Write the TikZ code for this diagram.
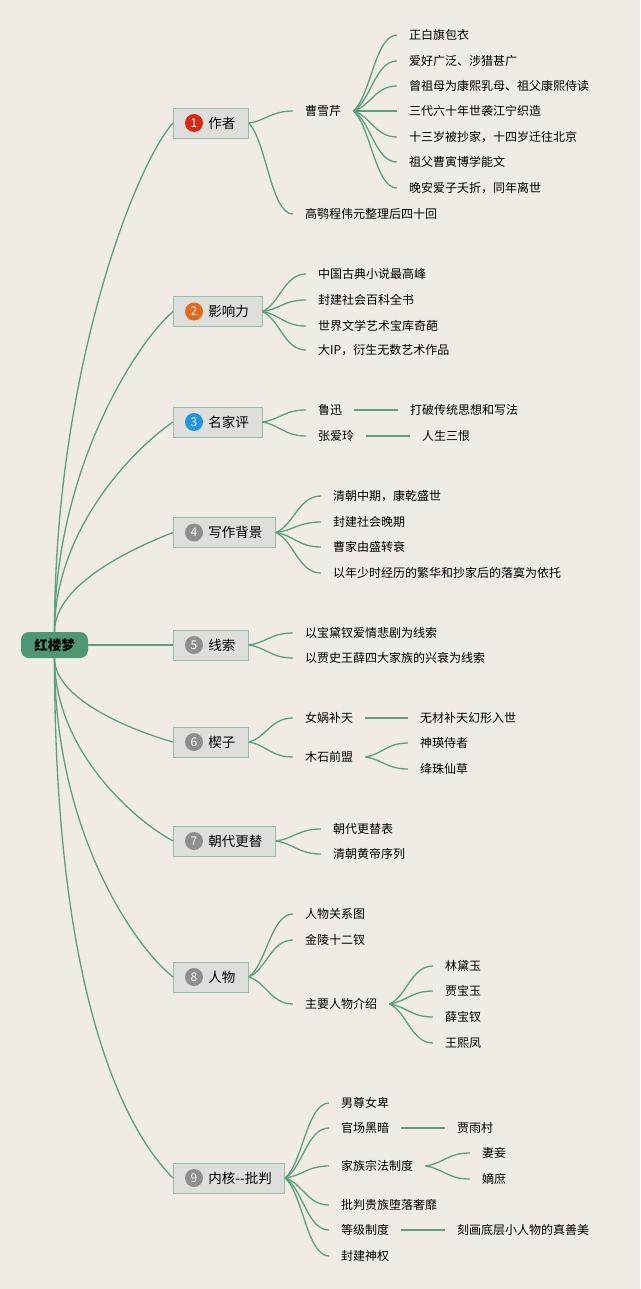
\documentclass[tikz,border=0pt]{standalone}
\usepackage{fontspec}
\setmainfont{Noto Sans CJK SC}
\usetikzlibrary{calc}
\definecolor{bgcol}{HTML}{F0ECE5}
\definecolor{linkcol}{HTML}{5B9E80}
\definecolor{boxfill}{HTML}{DEDEDC}
\definecolor{boxline}{HTML}{93C2A8}
\definecolor{rootfill}{HTML}{4F9774}
\definecolor{badgered}{HTML}{D62B12}
\definecolor{badgeorange}{HTML}{E3691C}
\definecolor{badgeblue}{HTML}{2196DE}
\definecolor{badgegray}{HTML}{8E8E8E}
% curved twig from a parent to a child, arriving level
\newcommand\twig[2]{\draw[link] let \p1=(#1), \p2=(#2) in (\p1) .. controls ({\x1+0.4*(\x2-\x1)},{\y1+0.2*(\y2-\y1)}) and ({0.5*(\x1+\x2)},\y2) .. (\p2);}
\begin{document}
\begin{tikzpicture}[x=1pt, y=-1pt,
  link/.style={draw=linkcol, line width=1.3pt},
  rootbox/.style={fill=rootfill, rounded corners=8pt, minimum width=67pt, minimum height=26pt, inner sep=0pt, font=\fontsize{13.5}{15}\selectfont\bfseries},
  branch/.style={anchor=west, draw=boxline, line width=0.8pt, fill=boxfill, minimum height=30pt, inner xsep=13pt, inner ysep=0pt, font=\fontsize{13.5}{15}\selectfont},
  badge/.style={circle, minimum size=18pt, inner sep=0pt, text=white, font=\fontsize{12}{12}\selectfont},
  leaf/.style={anchor=west, inner xsep=12pt, inner ysep=1pt, font=\fontsize{12}{14}\selectfont}]
\fill[bgcol] (0,0) rectangle (640,1289);
\node[rootbox] (root) at (54.5,645){红楼梦};
% main branches
\node[branch] (b1) at (173,123){\hspace{22pt}作者};
\node[badge, fill=badgered] (n1) at ([xshift=21pt]b1.west){1};
\node[branch] (b2) at (173,311.5){\hspace{22pt}影响力};
\node[badge, fill=badgeorange] (n2) at ([xshift=21pt]b2.west){2};
\node[branch] (b3) at (173,422){\hspace{22pt}名家评};
\node[badge, fill=badgeblue] (n3) at ([xshift=21pt]b3.west){3};
\node[branch] (b4) at (173,532.5){\hspace{22pt}写作背景};
\node[badge, fill=badgegray] (n4) at ([xshift=21pt]b4.west){4};
\node[branch] (b5) at (173,645){\hspace{22pt}线索};
\node[badge, fill=badgegray] (n5) at ([xshift=21pt]b5.west){5};
\node[branch] (b6) at (173,742){\hspace{22pt}楔子};
\node[badge, fill=badgegray] (n6) at ([xshift=21pt]b6.west){6};
\node[branch] (b7) at (173,841){\hspace{22pt}朝代更替};
\node[badge, fill=badgegray] (n7) at ([xshift=21pt]b7.west){7};
\node[branch] (b8) at (173,977){\hspace{22pt}人物};
\node[badge, fill=badgegray] (n8) at ([xshift=21pt]b8.west){8};
\node[branch] (b9) at (173,1178){\hspace{22pt}内核-{}-批判};
\node[badge, fill=badgegray] (n9) at ([xshift=21pt]b9.west){9};
\draw[link] (root.north) .. controls (54.5,378) and (133,168) .. (b1.west);
\draw[link] (root.north) .. controls (54.5,472) and (135,344) .. (b2.west);
\draw[link] (root.north) .. controls (54.5,528) and (136,447) .. (b3.west);
\draw[link] (root.north) .. controls (54.5,583) and (136,547) .. (b4.west);
\draw[link] (root.east) -- (b5.west);
\draw[link] (root.south) .. controls (54.5,700) and (134,731) .. (b6.west);
\draw[link] (root.south) .. controls (54.5,750) and (134,820) .. (b7.west);
\draw[link] (root.south) .. controls (54.5,830) and (133,945) .. (b8.west);
\draw[link] (root.south) .. controls (54.5,970) and (115,1120) .. (b9.west);
% 1 author
\node[leaf] (c11) at (293,111){曹雪芹};
\node[leaf] (c12) at (293,214){高鹗程伟元整理后四十回};
\node[leaf] (c11a) at (397,35){正白旗包衣};
\node[leaf] (c11b) at (397,61){爱好广泛、涉猎甚广};
\node[leaf] (c11c) at (397,86){曾祖母为康熙乳母、祖父康熙侍读};
\node[leaf] (c11d) at (397,111){三代六十年世袭江宁织造};
\node[leaf] (c11e) at (397,137){十三岁被抄家，十四岁迁往北京};
\node[leaf] (c11f) at (397,162){祖父曹寅博学能文};
\node[leaf] (c11g) at (397,188){晚安爱子夭折，同年离世};
\twig{b1.east}{c11.west}
\twig{b1.east}{c12.west}
\twig{c11.east}{c11a.west}
\twig{c11.east}{c11b.west}
\twig{c11.east}{c11c.west}
\draw[link] (c11.east) -- (c11d.west);
\twig{c11.east}{c11e.west}
\twig{c11.east}{c11f.west}
\twig{c11.east}{c11g.west}
% 2 influence
\node[leaf] (c21) at (306,274){中国古典小说最高峰};
\node[leaf] (c22) at (306,300){封建社会百科全书};
\node[leaf] (c23) at (306,326){世界文学艺术宝库奇葩};
\node[leaf] (c24) at (306,350){大IP，衍生无数艺术作品};
\twig{b2.east}{c21.west}
\twig{b2.east}{c22.west}
\twig{b2.east}{c23.west}
\twig{b2.east}{c24.west}
% 3 critics
\node[leaf] (c31) at (306,410){鲁迅};
\node[leaf] (c31a) at (398,410){打破传统思想和写法};
\node[leaf] (c32) at (306,436){张爱玲};
\node[leaf] (c32a) at (410,436){人生三恨};
\twig{b3.east}{c31.west}
\twig{b3.east}{c32.west}
\draw[link] (c31.east) -- (c31a.west);
\draw[link] (c32.east) -- (c32a.west);
% 4 background
\node[leaf] (c41) at (321,496){清朝中期，康乾盛世};
\node[leaf] (c42) at (321,522){封建社会晚期};
\node[leaf] (c43) at (321,547){曹家由盛转衰};
\node[leaf] (c44) at (321,573){以年少时经历的繁华和抄家后的落寞为依托};
\twig{b4.east}{c41.west}
\twig{b4.east}{c42.west}
\twig{b4.east}{c43.west}
\twig{b4.east}{c44.west}
% 5 threads
\node[leaf] (c51) at (293,633){以宝黛钗爱情悲剧为线索};
\node[leaf] (c52) at (293,658){以贾史王薛四大家族的兴衰为线索};
\twig{b5.east}{c51.west}
\twig{b5.east}{c52.west}
% 6 prologue
\node[leaf] (c61) at (293,718){女娲补天};
\node[leaf] (c61a) at (408,718){无材补天幻形入世};
\node[leaf] (c62) at (293,757){木石前盟};
\node[leaf] (c62a) at (408,743){神瑛侍者};
\node[leaf] (c62b) at (408,769){绛珠仙草};
\twig{b6.east}{c61.west}
\twig{b6.east}{c62.west}
\draw[link] (c61.east) -- (c61a.west);
\twig{c62.east}{c62a.west}
\twig{c62.east}{c62b.west}
% 7 dynasties
\node[leaf] (c71) at (321,829){朝代更替表};
\node[leaf] (c72) at (321,854){清朝黄帝序列};
\twig{b7.east}{c71.west}
\twig{b7.east}{c72.west}
% 8 characters
\node[leaf] (c81) at (293,914){人物关系图};
\node[leaf] (c82) at (293,940){金陵十二钗};
\node[leaf] (c83) at (293,1004){主要人物介绍};
\node[leaf] (c83a) at (433,966){林黛玉};
\node[leaf] (c83b) at (433,991){贾宝玉};
\node[leaf] (c83c) at (433,1017){薛宝钗};
\node[leaf] (c83d) at (433,1043){王熙凤};
\twig{b8.east}{c81.west}
\twig{b8.east}{c82.west}
\twig{b8.east}{c83.west}
\twig{c83.east}{c83a.west}
\twig{c83.east}{c83b.west}
\twig{c83.east}{c83c.west}
\twig{c83.east}{c83d.west}
% 9 core critique
\node[leaf] (c91) at (329,1103){男尊女卑};
\node[leaf] (c92) at (329,1128){官场黑暗};
\node[leaf] (c92a) at (445,1128){贾雨村};
\node[leaf] (c93) at (329,1166){家族宗法制度};
\node[leaf] (c93a) at (470,1153){妻妾};
\node[leaf] (c93b) at (470,1179){嫡庶};
\node[leaf] (c94) at (329,1205){批判贵族堕落奢靡};
\node[leaf] (c95) at (329,1230){等级制度};
\node[leaf] (c95a) at (445,1230){刻画底层小人物的真善美};
\node[leaf] (c96) at (329,1256){封建神权};
\twig{b9.east}{c91.west}
\twig{b9.east}{c92.west}
\twig{b9.east}{c93.west}
\twig{b9.east}{c94.west}
\twig{b9.east}{c95.west}
\twig{b9.east}{c96.west}
\draw[link] (c92.east) -- (c92a.west);
\twig{c93.east}{c93a.west}
\twig{c93.east}{c93b.west}
\draw[link] (c95.east) -- (c95a.west);
\end{tikzpicture}
\end{document}
